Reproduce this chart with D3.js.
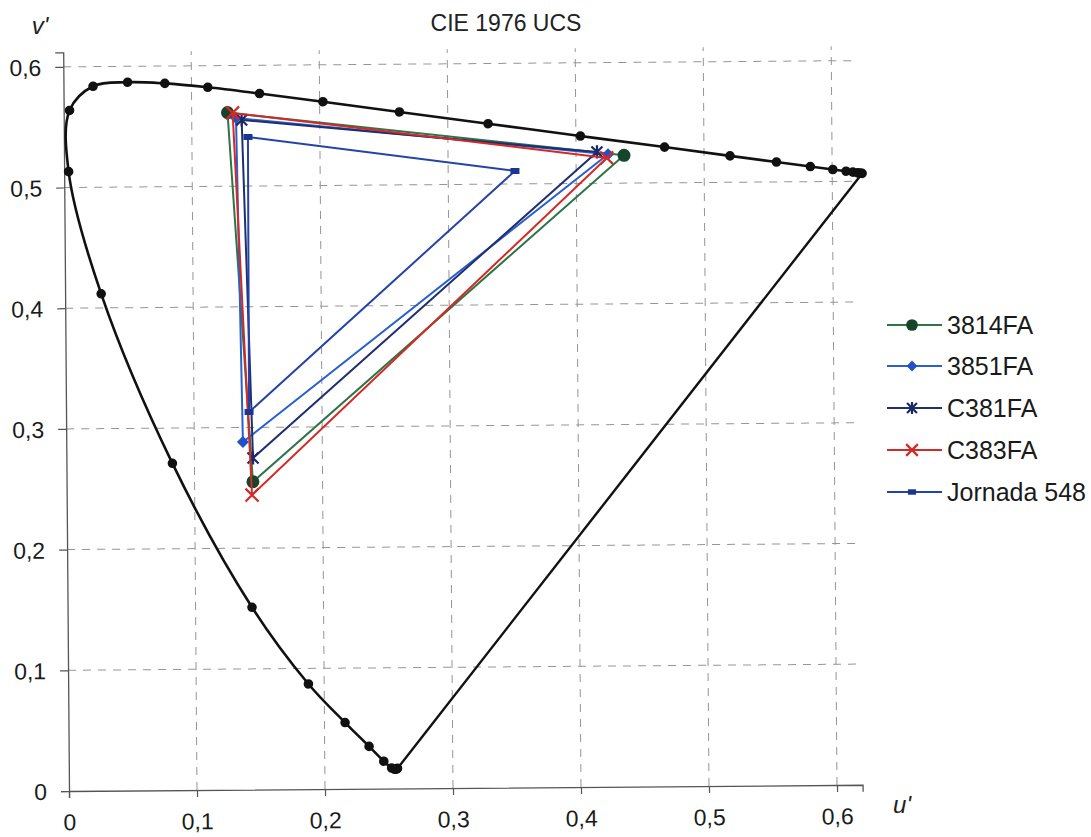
<!DOCTYPE html>
<html>
<head>
<meta charset="utf-8">
<script src="https://cdn.jsdelivr.net/npm/d3@7/dist/d3.min.js"></script>
<style>
  html, body { margin: 0; padding: 0; background: #fff; }
  svg { display: block; font-family: "Liberation Sans", Arial, sans-serif; }
</style>
</head>
<body>
<svg id="chart" width="1091" height="837"></svg>
<script>
// Spectral locus (CIE 1976 u'v'), 10 nm steps
const wavelengths = [380,390,400,410,420,430,440,450,460,470,480,490,500,510,520,530,540,550,560,570,580,590,600,610,620,630,640,650,660,670,680,690,700];
const locusU = [0.2568,0.2564,0.2558,0.2545,0.2522,0.2461,0.2347,0.2161,0.1877,0.1441,0.0828,0.0282,0.0035,0.0046,0.0231,0.0501,0.0792,0.1127,0.1531,0.2026,0.2623,0.3315,0.4035,0.4692,0.5203,0.5565,0.5830,0.6005,0.6109,0.6162,0.6199,0.6218,0.6234];
const locusV = [0.0166,0.0163,0.0159,0.0159,0.0169,0.0226,0.0350,0.0549,0.0871,0.1510,0.2708,0.4117,0.5131,0.5638,0.5837,0.5868,0.5856,0.5821,0.5766,0.5694,0.5604,0.5501,0.5393,0.5296,0.5219,0.5165,0.5125,0.5099,0.5084,0.5076,0.5070,0.5068,0.5065];

// Primaries (green, red, blue) of each measured device
const seriesNames = ["3814FA", "3851FA", "C381FA", "C383FA", "Jornada 548"];
const u3814FA = [0.128, 0.4375, 0.1456];
const v3814FA = [0.561, 0.523, 0.255];
const u3851FA = [0.1346, 0.425, 0.138];
const v3851FA = [0.5565, 0.524, 0.288];
const uC381FA = [0.139, 0.4164, 0.1458];
const vC381FA = [0.5548, 0.526, 0.2747];
const uC383FA = [0.132, 0.424, 0.1448];
const vC383FA = [0.5607, 0.521, 0.244];
const uJornada = [0.1438, 0.3522, 0.143];
const vJornada = [0.5407, 0.5108, 0.3128];

const xTicks = [0, 0.1, 0.2, 0.3, 0.4, 0.5, 0.6];
const yTicks = [0, 0.1, 0.2, 0.3, 0.4, 0.5, 0.6];

const seriesU = [u3814FA, u3851FA, uC381FA, uC383FA, uJornada];
const seriesV = [v3814FA, v3851FA, vC381FA, vC383FA, vJornada];
const lineColors = ["#2f7448", "#2b5fcf", "#1f2f70", "#d42a26", "#2443a6"];
const markerColors = ["#17452c", "#1f52c8", "#1b2a66", "#d42a26", "#1c3590"];
const markerKinds = ["circle", "diamond", "star", "x", "square"];

const svg = d3.select("#chart");
const origin = { x: 69, y: 791 };
const x = d3.scaleLinear().domain([0, 0.62]).range([0, 0.62 * 1280]);
const y = d3.scaleLinear().domain([0, 0.612]).range([0, -0.612 * 1207]);
const fmt = d => d === 0 ? "0" : d3.format(".1f")(d).replace(".", ",");

const plot = svg.append("g")
  .attr("transform", `translate(${origin.x},${origin.y}) rotate(-0.45)`);

// dashed grid
plot.append("g").selectAll("line.v").data(xTicks.slice(1)).join("line")
  .attr("x1", d => x(d)).attr("x2", d => x(d))
  .attr("y1", 0).attr("y2", y(0.612))
  .attr("stroke", "#959595").attr("stroke-width", 1).attr("stroke-dasharray", "8,7");
plot.append("g").selectAll("line.h").data(yTicks.slice(1)).join("line")
  .attr("x1", 0).attr("x2", x(0.62))
  .attr("y1", d => y(d)).attr("y2", d => y(d))
  .attr("stroke", "#959595").attr("stroke-width", 1).attr("stroke-dasharray", "8,7");

// axes
const xAxis = d3.axisBottom(x).tickValues(xTicks).tickFormat(fmt).tickSize(7).tickPadding(16);
const yAxis = d3.axisLeft(d3.scaleLinear().domain([0, 0.612]).range([0, y(0.612)]))
  .tickValues(yTicks).tickFormat(fmt).tickSize(8).tickPadding(14);
const gx = plot.append("g").call(xAxis);
const gy = plot.append("g").call(yAxis);
[gx, gy].forEach(g => {
  g.select(".domain").attr("stroke", "#555").attr("stroke-width", 1.3);
  g.selectAll(".tick line").attr("stroke", "#555").attr("stroke-width", 1.2);
  g.selectAll(".tick text").attr("fill", "#1a1a1a").attr("font-size", 23)
    .attr("font-family", "'Liberation Sans', Arial, sans-serif");
});
gy.selectAll(".tick text").attr("dy", "0.36em");

// spectral locus
const locus = wavelengths.map((w, i) => [x(locusU[i]), y(locusV[i])]);
plot.append("path")
  .attr("d", d3.line().curve(d3.curveCatmullRom.alpha(0.5))(locus))
  .attr("fill", "none").attr("stroke", "#111").attr("stroke-width", 2.6);
plot.append("path")
  .attr("d", d3.line()([locus[locus.length - 1], locus[0]]))
  .attr("fill", "none").attr("stroke", "#111").attr("stroke-width", 2.4);
plot.append("g").selectAll("circle").data(locus).join("circle")
  .attr("cx", d => d[0]).attr("cy", d => d[1]).attr("r", 4.8).attr("fill", "#111");

// marker drawing helper
function drawMarker(g, kind, cx, cy, color, scale) {
  const s = scale || 1;
  if (kind === "circle") {
    g.append("circle").attr("cx", cx).attr("cy", cy).attr("r", 6.5 * s).attr("fill", color);
  } else if (kind === "diamond") {
    const r = 6 * s;
    g.append("path").attr("d", `M${cx},${cy - r}L${cx + r},${cy}L${cx},${cy + r}L${cx - r},${cy}Z`).attr("fill", color);
  } else if (kind === "star") {
    const r = 5.5 * s;
    g.append("path").attr("d",
      `M${cx - r},${cy - r}L${cx + r},${cy + r}M${cx - r},${cy + r}L${cx + r},${cy - r}M${cx},${cy - r * 1.2}L${cx},${cy + r * 1.2}`)
      .attr("stroke", color).attr("stroke-width", 2.2).attr("fill", "none");
  } else if (kind === "x") {
    const r = 6.5 * s;
    g.append("path").attr("d", `M${cx - r},${cy - r}L${cx + r},${cy + r}M${cx - r},${cy + r}L${cx + r},${cy - r}`)
      .attr("stroke", color).attr("stroke-width", 2.2).attr("fill", "none");
  } else if (kind === "square") {
    g.append("rect").attr("x", cx - 4.5 * s).attr("y", cy - 3 * s)
      .attr("width", 9 * s).attr("height", 6 * s).attr("fill", color);
  }
}

// device gamut triangles
seriesNames.forEach((name, i) => {
  const pts = seriesU[i].map((u, k) => [x(u), y(seriesV[i][k])]);
  const g = plot.append("g");
  g.append("path")
    .attr("d", d3.line()(pts.concat([pts[0]])))
    .attr("fill", "none").attr("stroke", lineColors[i]).attr("stroke-width", 2);
  pts.forEach(p => drawMarker(g, markerKinds[i], p[0], p[1], markerColors[i]));
});

// axis names and title
svg.append("text").attr("x", 40).attr("y", 34).attr("text-anchor", "middle")
  .attr("font-size", 24).attr("font-style", "italic").attr("fill", "#222").text("v'");
svg.append("text").attr("x", 902).attr("y", 813).attr("text-anchor", "middle")
  .attr("font-size", 24).attr("font-style", "italic").attr("fill", "#222").text("u'");
svg.append("text").attr("x", 506).attr("y", 31).attr("text-anchor", "middle")
  .attr("font-size", 23).attr("fill", "#222").text("CIE 1976 UCS");

// legend
const legendY = [325, 366, 408, 450, 492];
const legend = svg.append("g");
seriesNames.forEach((name, i) => {
  const ly = legendY[i];
  legend.append("line").attr("x1", 887).attr("x2", 942).attr("y1", ly).attr("y2", ly)
    .attr("stroke", lineColors[i]).attr("stroke-width", 2);
  drawMarker(legend, markerKinds[i], 912, ly, markerColors[i], 0.9);
  legend.append("text").attr("x", 947).attr("y", ly).attr("dy", "0.36em")
    .attr("font-size", 25).attr("fill", "#1a1a1a").text(name);
});
</script>
</body>
</html>
